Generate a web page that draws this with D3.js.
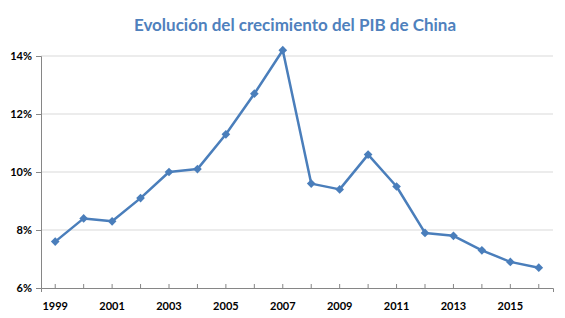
<!DOCTYPE html>
<html>
<head>
<meta charset="utf-8">
<script src="https://cdn.jsdelivr.net/npm/d3@7"></script>
<style>
  body { margin: 0; background: #fff; }
  #chart { width: 565px; height: 318px; }
  text { font-family: Lato, "Open Sans", sans-serif; }
</style>
</head>
<body>
<div id="chart"></div>
<script>
//Datos
const years = ['1999','2000','2001','2002','2003','2004','2005','2006','2007','2008','2009','2010','2011','2012','2013','2014','2015','2016'];
const growth = [7.6, 8.4, 8.3, 9.1, 10.0, 10.1, 11.3, 12.7, 14.2, 9.6, 9.4, 10.6, 9.5, 7.9, 7.8, 7.3, 6.9, 6.7];
const yTicks = [6, 8, 10, 12, 14];
const titleText = 'Evolución del crecimiento del PIB de China';

//Colores
const COLOR_LINE = '#4A7EBB',
COLOR_TITLE = '#4F81BD',
COLOR_GRID = '#D9D9D9',
COLOR_AXIS = '#868686';

let margin = {top: 56, right: 12, bottom: 30, left: 41},
    width = 565 - margin.left - margin.right,
    height = 318 - margin.top - margin.bottom;

let root = d3.select('#chart')
    .append('svg')
    .attr('width', 565)
    .attr('height', 318);

root.append('text')
    .attr('x', 295)
    .attr('y', 31)
    .attr('text-anchor', 'middle')
    .attr('fill', COLOR_TITLE)
    .style('font-size', '17px')
    .style('font-weight', '700')
    .text(titleText);

let svg = root.append('g')
    .attr('transform', 'translate(' + margin.left + ',' + margin.top + ')');

let data = years.map(function(d, i) { return {year: d, value: growth[i]}; });

let x = d3.scaleBand()
    .domain(years)
    .range([0, width]);

let y = d3.scaleLinear()
    .domain([6, 14])
    .range([height, 0]);

//Rejilla
svg.append('g')
    .selectAll('line')
    .data(yTicks.filter(function(d) { return d != 6; }))
    .enter()
    .append('line')
    .attr('x1', 0)
    .attr('x2', width)
    .attr('y1', function(d) { return y(d); })
    .attr('y2', function(d) { return y(d); })
    .attr('stroke', COLOR_GRID)
    .attr('stroke-width', 1);

//Eje Y
let yAxis = svg.append('g')
    .call(d3.axisLeft(y).tickValues(yTicks).tickSize(5).tickFormat(function(d) { return d + '%'; }));
yAxis.select('.domain').attr('stroke', COLOR_AXIS);
yAxis.selectAll('.tick line').attr('stroke', COLOR_AXIS);
yAxis.selectAll('text')
    .attr('x', -9)
    .attr('fill', '#000')
    .style('font-size', '11px')
    .style('font-weight', '700')
    .style('font-family', 'Lato, "Open Sans", sans-serif');

//Eje X
let xAxis = svg.append('g')
    .attr('transform', 'translate(0,' + height + ')')
    .call(d3.axisBottom(x).tickSizeOuter(0).tickSize(4)
        .tickFormat(function(d, i) { return i % 2 == 0 ? d : ''; }));
xAxis.select('.domain').attr('stroke', COLOR_AXIS);
xAxis.selectAll('.tick line').attr('stroke', COLOR_AXIS).attr('y1', 0).attr('y2', -4);
xAxis.selectAll('text')
    .attr('y', 14)
    .attr('fill', '#000')
    .style('font-size', '11px')
    .style('font-weight', '700')
    .style('font-family', 'Lato, "Open Sans", sans-serif');

//Línea
let line = d3.line()
    .x(function(d) { return x(d.year) + x.bandwidth() / 2; })
    .y(function(d) { return y(d.value); });

svg.append('path')
    .datum(data)
    .attr('fill', 'none')
    .attr('stroke', COLOR_LINE)
    .attr('stroke-width', 2.5)
    .attr('stroke-linejoin', 'round')
    .attr('d', line);

//Marcadores
svg.append('g')
    .selectAll('path')
    .data(data)
    .enter()
    .append('path')
    .attr('transform', function(d) { return 'translate(' + (x(d.year) + x.bandwidth() / 2) + ',' + y(d.value) + ')'; })
    .attr('d', d3.symbol().type(d3.symbolDiamond2).size(48))
    .attr('fill', COLOR_LINE);
</script>
</body>
</html>
